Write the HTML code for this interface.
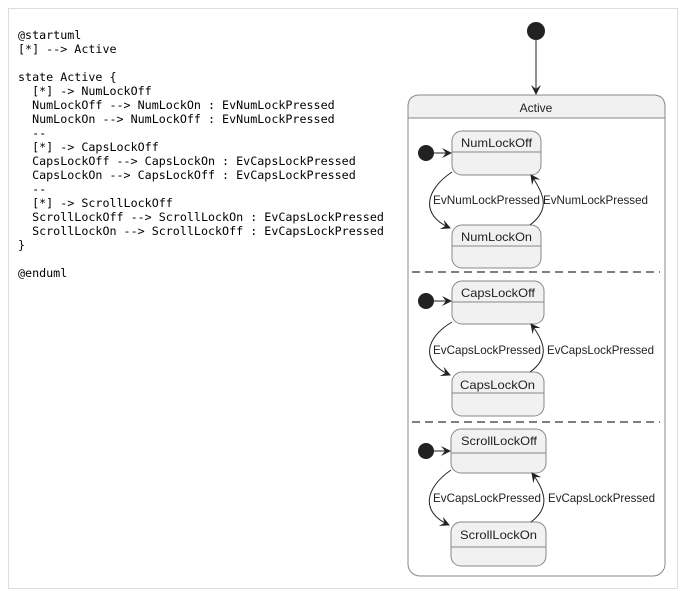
<!DOCTYPE html>
<html><head><meta charset="utf-8"><style>
html,body{margin:0;padding:0;background:#fff;width:681px;height:591px;overflow:hidden}
.frame{position:absolute;left:8px;top:8px;width:670px;height:581px;border:1px solid #ddd;box-sizing:border-box}
pre{position:absolute;left:18px;top:28px;margin:0;font-family:"DejaVu Sans Mono","Liberation Mono",monospace;font-size:11.7px;line-height:14px;color:#000}
svg{position:absolute;left:0;top:0}
svg text{font-family:"Liberation Sans",sans-serif;font-size:12px;fill:#222}
</style></head><body>
<div class="frame"></div>
<pre>@startuml
[*] --&gt; Active

state Active {
  [*] -&gt; NumLockOff
  NumLockOff --&gt; NumLockOn : EvNumLockPressed
  NumLockOn --&gt; NumLockOff : EvNumLockPressed
  --
  [*] -&gt; CapsLockOff
  CapsLockOff --&gt; CapsLockOn : EvCapsLockPressed
  CapsLockOn --&gt; CapsLockOff : EvCapsLockPressed
  --
  [*] -&gt; ScrollLockOff
  ScrollLockOff --&gt; ScrollLockOn : EvCapsLockPressed
  ScrollLockOn --&gt; ScrollLockOff : EvCapsLockPressed
}

@enduml</pre>
<svg width="681" height="591" viewBox="0 0 681 591">
<defs>
<marker id="a" markerWidth="10" markerHeight="10" refX="9" refY="5" orient="auto" markerUnits="userSpaceOnUse">
<path d="M0,0 L10,5 L0,10 L4,5 Z" fill="#222"/></marker>
</defs>
<circle cx="536" cy="31" r="9" fill="#222"/>
<line x1="536" y1="40" x2="536" y2="94" stroke="#222" stroke-width="1" marker-end="url(#a)"/>
<rect x="408" y="95" width="257" height="481" rx="12" fill="#fff" stroke="#888"/>
<path d="M408,118 V107 Q408,95 420,95 H653 Q665,95 665,107 V118 Z" fill="#f1f1f1" stroke="#888"/>
<text x="536" y="112" text-anchor="middle">Active</text>
<line x1="408" y1="118" x2="665" y2="118" stroke="#888"/>
<line x1="412" y1="272" x2="660" y2="272" stroke="#555" stroke-width="1.5" stroke-dasharray="8,5"/>
<line x1="412" y1="422" x2="660" y2="422" stroke="#555" stroke-width="1.5" stroke-dasharray="8,5"/>

<g>
<rect x="452" y="131" width="89" height="44" rx="10" fill="#f1f1f1" stroke="#888"/>
<line x1="452" y1="152" x2="541" y2="152" stroke="#888"/>
<text x="461" y="147" textLength="71" lengthAdjust="spacingAndGlyphs">NumLockOff</text>
<rect x="452" y="225" width="89" height="43" rx="10" fill="#f1f1f1" stroke="#888"/>
<line x1="452" y1="246" x2="541" y2="246" stroke="#888"/>
<text x="461" y="241" textLength="71" lengthAdjust="spacingAndGlyphs">NumLockOn</text>
<circle cx="426" cy="153" r="8" fill="#222"/>
<line x1="434" y1="153" x2="451" y2="153" stroke="#222" marker-end="url(#a)"/>
<path d="M452,172 C425,190 420,215 450,228" fill="none" stroke="#222" marker-end="url(#a)"/>
<path d="M530,225 C550,210 545,195 531,175" fill="none" stroke="#222" marker-end="url(#a)"/>
<text x="433" y="204" textLength="107" lengthAdjust="spacingAndGlyphs">EvNumLockPressed</text>
<text x="543" y="204" textLength="105" lengthAdjust="spacingAndGlyphs">EvNumLockPressed</text>
</g>

<g transform="translate(0,150)">
<rect x="452" y="131" width="92" height="43" rx="10" fill="#f1f1f1" stroke="#888"/>
<line x1="452" y1="152" x2="544" y2="152" stroke="#888"/>
<text x="461" y="147" textLength="74" lengthAdjust="spacingAndGlyphs">CapsLockOff</text>
<rect x="452" y="222" width="92" height="44" rx="10" fill="#f1f1f1" stroke="#888"/>
<line x1="452" y1="243" x2="544" y2="243" stroke="#888"/>
<text x="460" y="239" textLength="75" lengthAdjust="spacingAndGlyphs">CapsLockOn</text>
<circle cx="426" cy="151" r="8" fill="#222"/>
<line x1="434" y1="151" x2="451" y2="151" stroke="#222" marker-end="url(#a)"/>
<path d="M452,172 C425,188 420,212 450,225" fill="none" stroke="#222" marker-end="url(#a)"/>
<path d="M530,222 C550,208 545,192 531,174" fill="none" stroke="#222" marker-end="url(#a)"/>
<text x="433" y="204" textLength="108" lengthAdjust="spacingAndGlyphs">EvCapsLockPressed</text>
<text x="547" y="204" textLength="107" lengthAdjust="spacingAndGlyphs">EvCapsLockPressed</text>
</g>

<g transform="translate(0,298)">
<rect x="451" y="131" width="95" height="44" rx="10" fill="#f1f1f1" stroke="#888"/>
<line x1="451" y1="155" x2="546" y2="155" stroke="#888"/>
<text x="461" y="147" textLength="76" lengthAdjust="spacingAndGlyphs">ScrollLockOff</text>
<rect x="451" y="224" width="95" height="44" rx="10" fill="#f1f1f1" stroke="#888"/>
<line x1="451" y1="249" x2="546" y2="249" stroke="#888"/>
<text x="460" y="241" textLength="77" lengthAdjust="spacingAndGlyphs">ScrollLockOn</text>
<circle cx="426" cy="153" r="8" fill="#222"/>
<line x1="434" y1="153" x2="450" y2="153" stroke="#222" marker-end="url(#a)"/>
<path d="M451,172 C425,190 420,214 449,227" fill="none" stroke="#222" marker-end="url(#a)"/>
<path d="M531,224 C550,210 546,194 532,175" fill="none" stroke="#222" marker-end="url(#a)"/>
<text x="433" y="204" textLength="108" lengthAdjust="spacingAndGlyphs">EvCapsLockPressed</text>
<text x="548" y="204" textLength="107" lengthAdjust="spacingAndGlyphs">EvCapsLockPressed</text>
</g>
</svg>
</body></html>
